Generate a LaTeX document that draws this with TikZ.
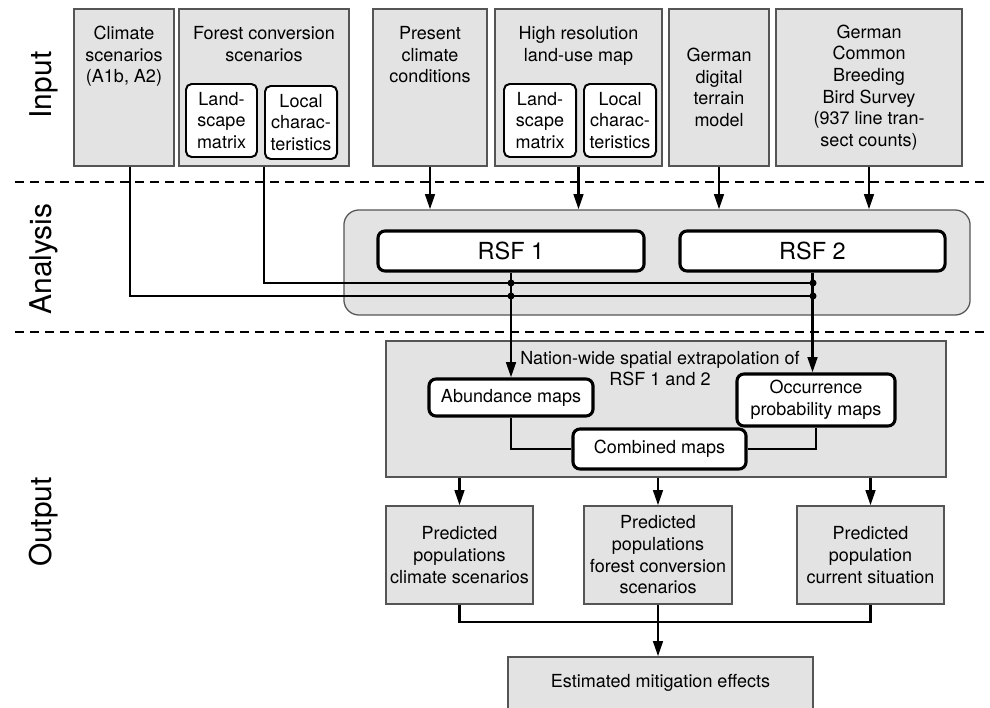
\documentclass[tikz,border=0pt]{standalone}
\usepackage{fontspec}
\setmainfont{TeX Gyre Heros}
\usepackage{tikz}
\usetikzlibrary{arrows.meta}
\definecolor{boxgray}{RGB}{227,227,227}
\definecolor{edgegray}{RGB}{85,85,85}

\begin{document}
\begin{tikzpicture}[x=0.025cm, y=-0.025cm,
	every node/.style={font=\fontsize{12.8}{15.4}\selectfont, align=center},
	panel/.style={rectangle, draw=edgegray, fill=boxgray, line width=0.9pt, inner sep=1pt},
	inbox/.style={panel, minimum height=3.925cm},
	smallbox/.style={rectangle, rounded corners=4pt, draw=black, fill=white, line width=1.4pt, inner sep=1pt, minimum height=1.825cm},
	boldbox/.style={rectangle, rounded corners=5pt, draw=black, fill=white, line width=2.2pt, inner sep=1pt},
	boxtitle/.style={inner sep=0pt, anchor=north},
	sidelabel/.style={rotate=90, font=\fontsize{21.3}{25}\selectfont},
	link/.style={draw=black, line width=1.8pt},
	arrowline/.style={link, -{Triangle[length=3.8mm, width=2.4mm]}},
	sepline/.style={draw=black, line width=1.3pt, dash pattern=on 0.225cm off 0.15cm}]

	\useasboundingbox (0,0) rectangle (990,708);

	% phases
	\node[sidelabel] (inp) at (44,85) {Input};
	\node[sidelabel] (ana) at (44,259) {Analysis};
	\node[sidelabel] (outp) at (44,522) {Output};
	\draw[sepline] (15,182) -- (990,182);
	\draw[sepline] (15,332) -- (990,332);

	% input
	\node[inbox, minimum width=2.5cm] (clim) at (124,87.5) {};
	\node[boxtitle] (climtxt) at ([yshift=-0.44cm]clim.north) {Climate\\scenarios\\(A1b, A2)};
	\node[inbox, minimum width=4.25cm] (forest) at (264,87.5) {};
	\node[boxtitle] (foresttxt) at ([yshift=-0.44cm]forest.north) {Forest conversion\\scenarios};
	\node[smallbox, minimum width=1.775cm] (land1) at (221.5,120.5) {Land-\\scape\\matrix};
	\node[smallbox, minimum width=1.8cm] (local1) at (301,122.5) {Local\\charac-\\teristics};
	\node[inbox, minimum width=2.85cm] (pres) at (430,87.5) {};
	\node[boxtitle] (prestxt) at ([yshift=-0.44cm]pres.north) {Present\\climate\\conditions};
	\node[inbox, minimum width=4.175cm] (hires) at (578.5,87.5) {};
	\node[boxtitle] (hirestxt) at ([yshift=-0.44cm]hires.north) {High resolution\\land-use map};
	\node[smallbox, minimum width=1.8cm] (land2) at (540,120.5) {Land-\\scape\\matrix};
	\node[smallbox, minimum width=1.8cm] (local2) at (620,120.5) {Local\\charac-\\teristics};
	\node[inbox, minimum width=2.5cm] (dtm) at (719,87.5) {German\\digital\\terrain\\model};
	\node[inbox, minimum width=4.65cm] (bird) at (869,87.5) {German\\Common\\Breeding\\Bird Survey\\(937 line tran-\\sect counts)};

	% analysis
	\node[panel, rounded corners=0.375cm, minimum width=15.65cm, minimum height=2.625cm] (anabox) at (657,262.5) {};
	\node[boldbox, minimum width=6.65cm, minimum height=1cm, font=\fontsize{16.7}{20}\selectfont] (rsf1) at (511,251) {RSF 1};
	\node[boldbox, minimum width=6.625cm, minimum height=1cm, font=\fontsize{16.7}{20}\selectfont] (rsf2) at (812.5,251) {RSF 2};

	% output
	\node[panel, minimum width=14cm, minimum height=3.4cm] (outbox) at (666,409) {};
	\node[boxtitle] (outtxt) at ([xshift=-0.15cm, yshift=-0.26cm]outbox.north) {Nation-wide spatial extrapolation of\\RSF 1 and 2};
	\node[boldbox, minimum width=4.1cm, minimum height=0.925cm] (abund) at (511,397.5) {Abundance maps};
	\node[boldbox, minimum width=3.95cm, minimum height=1.3cm] (occ) at (816,400) {Occurrence\\probability maps};
	\node[boldbox, minimum width=4.325cm, minimum height=1cm] (comb) at (659.5,449) {Combined maps};
	\node[panel, minimum width=3.675cm, minimum height=2.45cm] (predclim) at (459.5,555) {Predicted\\populations\\climate scenarios};
	\node[panel, minimum width=3.7cm, minimum height=2.45cm] (predfor) at (658,555) {Predicted\\populations\\forest conversion\\scenarios};
	\node[panel, minimum width=3.675cm, minimum height=2.45cm] (predcur) at (870.5,555) {Predicted\\population\\current situation};
	\node[panel, minimum width=7.625cm, minimum height=1.3cm] (effect) at (660.5,683) {Estimated mitigation effects};

	% connectors
	\draw[arrowline] (pres.south) -- (pres.south |- anabox.north);
	\draw[arrowline] (hires.south) -- (hires.south |- anabox.north);
	\draw[arrowline] (dtm.south) -- (dtm.south |- anabox.north);
	\draw[arrowline] (bird.south) -- (bird.south |- anabox.north);
	\coordinate (f1) at (511,283);
	\coordinate (f2) at (813,283);
	\coordinate (c1) at (511,296);
	\coordinate (c2) at (813,296);
	\draw[link] (forest.south) |- (f2);
	\draw[link] ([xshift=0.15cm]clim.south) |- (c2);
	\fill (f1) circle (2.5pt) (f2) circle (2.5pt) (c1) circle (2.5pt) (c2) circle (2.5pt);
	\draw[arrowline] (rsf1.south) -- (abund.north);
	\draw[arrowline] (rsf2.south) -- (rsf2.south |- occ.north);
	\draw[link] (abund.south) |- (comb.west);
	\draw[link] (occ.south) |- (comb.east);
	\draw[arrowline] (predclim.north |- outbox.south) -- (predclim.north);
	\draw[arrowline] (predfor.north |- outbox.south) -- (predfor.north);
	\draw[arrowline] (predcur.north |- outbox.south) -- (predcur.north);
	\coordinate (merge) at (658,622);
	\draw[link] (predclim.south) |- (merge) -| (predcur.south);
	\draw[arrowline] (predfor.south) -- (predfor.south |- effect.north);
\end{tikzpicture}
\end{document}
